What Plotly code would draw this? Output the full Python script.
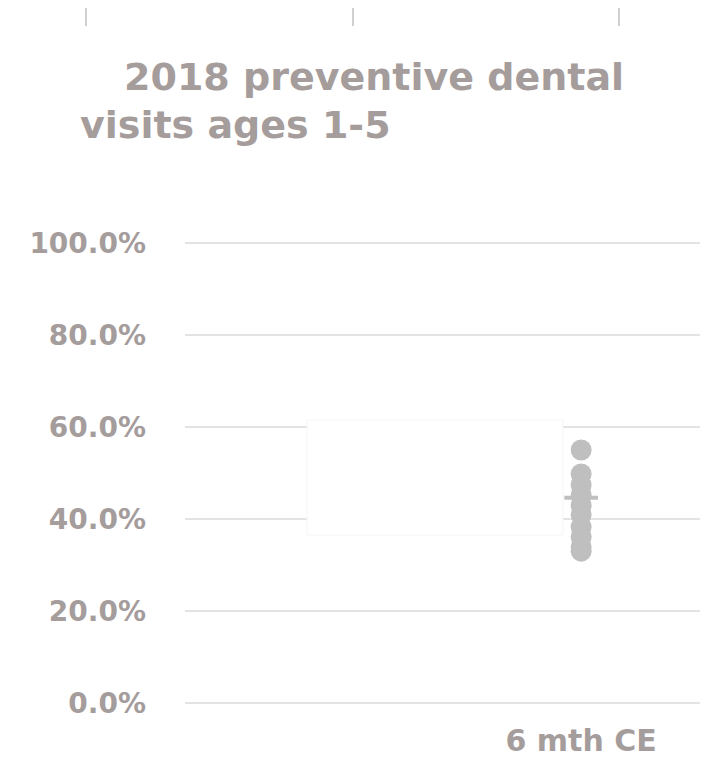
import plotly.graph_objects as go

# ---- data ----
categories = ["6 mth CE"]
visit_rates = [0.550, 0.498, 0.474, 0.452, 0.430, 0.409, 0.383, 0.361, 0.339, 0.330]
mean_rate = [0.446]
y_tick_vals = [0.0, 0.2, 0.4, 0.6, 0.8, 1.0]
y_tick_text = ["0.0%", "20.0%", "40.0%", "60.0%", "80.0%", "100.0%"]
title_lines = ["2018 preventive dental", "visits ages 1-5"]

# ---- layout geometry (page has an 8px body offset) ----
W, H = 709, 760
OFF = 8
PLOT_L, PLOT_R = 185, 700          # screen px
PLOT_T, PLOT_B = 238, 708          # screen px
ML = PLOT_L - OFF
MT = PLOT_T - OFF
PW = PLOT_R - PLOT_L
PH = PLOT_B - PLOT_T
MR = W - ML - PW
MB = H - MT - PH


def px_x(px):
    return (px - PLOT_L) / PW


def px_y(py):
    return (PLOT_B - py) / PH


TXT = "#a59c9c"
FONT = "DejaVu Sans"

fig = go.Figure()

fig.add_trace(go.Scatter(
    x=[categories[0]] * len(mean_rate), y=mean_rate, mode="markers",
    marker=dict(symbol="line-ew", size=24, color="#bfbfbf",
                line=dict(color="#bfbfbf", width=4)),
    hoverinfo="skip", showlegend=False,
))
fig.add_trace(go.Scatter(
    x=[categories[0]] * len(visit_rates), y=visit_rates, mode="markers",
    marker=dict(size=21, color="#bfbfbf", line=dict(width=0)),
    showlegend=False,
))

shapes = []
# white box hiding part of the gridlines
shapes.append(dict(type="rect", xref="paper", yref="paper",
                   x0=px_x(307), x1=px_x(563), y0=px_y(535), y1=px_y(420),
                   fillcolor="white", line=dict(color="#f5f5f5", width=1),
                   layer="above"))
# small tick marks at the top
for tx in [86, 353, 619]:
    shapes.append(dict(type="line", xref="paper", yref="paper",
                       x0=px_x(tx), x1=px_x(tx), y0=px_y(8), y1=px_y(26),
                       line=dict(color="#d0d0d0", width=2)))

annotations = [
    dict(text=title_lines[0], xref="paper", yref="paper", x=px_x(122), y=px_y(77),
         xanchor="left", yanchor="middle", showarrow=False,
         font=dict(family=FONT, size=38, color=TXT, weight="bold")),
    dict(text=title_lines[1], xref="paper", yref="paper", x=px_x(78), y=px_y(125),
         xanchor="left", yanchor="middle", showarrow=False,
         font=dict(family=FONT, size=38, color=TXT, weight="bold")),
]

fig.update_layout(
    width=W, height=H,
    margin=dict(l=ML, r=MR, t=MT, b=MB, pad=0, autoexpand=False),
    paper_bgcolor="white", plot_bgcolor="white",
    shapes=shapes, annotations=annotations,
    xaxis=dict(type="category", categoryarray=categories, range=[-2.0, 0.6],
               automargin=False,
               showgrid=False, zeroline=False, showline=False, ticks="",
               ticklabelstandoff=12,
               tickfont=dict(family=FONT, size=30, color=TXT, weight="bold")),
    yaxis=dict(range=[-0.0109, 1.0109], tickvals=y_tick_vals, ticktext=y_tick_text,
               automargin=False,
               showgrid=True, gridcolor="#e3e3e3", gridwidth=2,
               zeroline=False, showline=False, ticks="",
               ticklabelstandoff=38,
               tickfont=dict(family=FONT, size=28, color=TXT, weight="bold")),
)

fig.write_html("out.html")
